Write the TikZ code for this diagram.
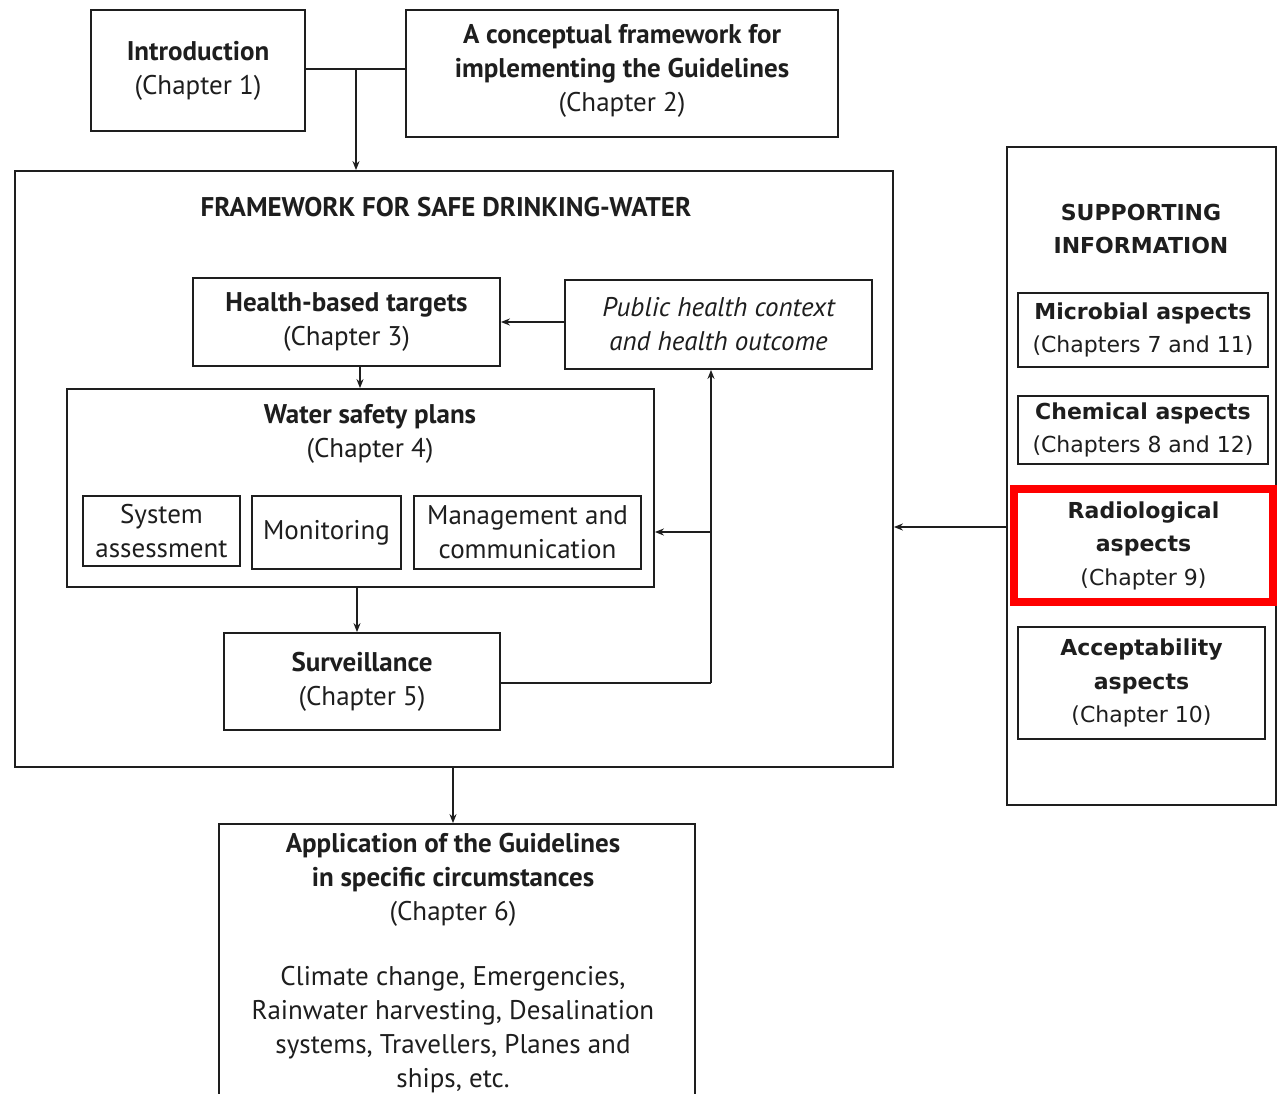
\documentclass[tikz,border=0pt]{standalone}
\usepackage{fontspec}
\setmainfont{PT Sans}
\newfontfamily\vfont{DejaVu Sans}
\usetikzlibrary{arrows.meta}
\definecolor{ink}{HTML}{1E1E1E}
\begin{document}
\begin{tikzpicture}[x=1pt,y=-1pt,
  box/.style={draw=ink,line width=1.8pt,rectangle,inner sep=0pt,align=center,text=ink,
    font=\fontsize{27}{34}\selectfont},
  vbox/.style={box,font=\vfont\fontsize{22}{33.5}\selectfont},
  lbl/.style={inner sep=0pt,align=center,text=ink,font=\fontsize{27}{34}\selectfont},
  vlbl/.style={lbl,font=\vfont\fontsize{22}{33.5}\selectfont},
  arr/.style={draw=ink,line width=1.6pt,-{Stealth[length=9pt,width=7pt]}},
  ln/.style={draw=ink,line width=1.6pt}]
\clip (0,0) rectangle (1277,1093);
\fill[white] (0,0) rectangle (1277,1093);
% top boxes
\node[box,minimum width=214pt,minimum height=121pt] (intro) at (198,70.5)
  {\textbf{Introduction}\\(Chapter 1)};
\node[box,minimum width=432pt,minimum height=127pt] (concept) at (622,73.5) {};
\node[lbl] (concepttext) at (622,71)
  {\textbf{A conceptual framework for}\\\textbf{implementing the Guidelines}\\(Chapter 2)};
% framework
\node[box,minimum width=878pt,minimum height=596pt] (frame) at (454,469) {};
\node[lbl] (ftitle) at (446,207) {\textbf{FRAMEWORK FOR SAFE DRINKING-WATER}};
\node[box,minimum width=307pt,minimum height=88pt] (hbt) at (346.5,322)
  {\textbf{Health-based targets}\\(Chapter 3)};
\node[box,minimum width=307pt,minimum height=89pt] (pub) at (718.5,324.5)
  {\itshape Public health context\\\itshape and health outcome};
\node[box,minimum width=587pt,minimum height=198pt] (wsp) at (360.5,488) {};
\node[lbl] (wsptitle) at (370,434) {\textbf{Water safety plans}\\(Chapter 4)};
\node[box,minimum width=157pt,minimum height=70pt] (sys) at (161.5,531) {System\\assessment};
\node[box,minimum width=149pt,minimum height=73pt] (mon) at (326.5,532.5) {Monitoring};
\node[box,minimum width=227pt,minimum height=73pt] (mgmt) at (527.5,532.5) {Management and\\communication};
\node[box,minimum width=276pt,minimum height=97pt] (surv) at (362,681.5)
  {\textbf{Surveillance}\\(Chapter 5)};
% application
\node[box,minimum width=476pt,minimum height=300pt] (app) at (457,974) {};
\node[lbl,anchor=north] (apptext) at (453,833)
  {\textbf{Application of the Guidelines}\\\textbf{in specific circumstances}\\(Chapter 6)\\[31pt]
   Climate change, Emergencies,\\Rainwater harvesting, Desalination\\systems, Travellers, Planes and\\ships, etc.};
% supporting information
\node[box,minimum width=269pt,minimum height=658pt] (supp) at (1141.5,476) {};
\node[vlbl] (stitle) at (1141,229) {\textbf{SUPPORTING}\\\textbf{INFORMATION}};
\node[vbox,minimum width=250pt,minimum height=74pt] (mic) at (1143,330)
  {\textbf{Microbial aspects}\\(Chapters 7 and 11)};
\node[vbox,minimum width=250pt,minimum height=68pt] (chem) at (1143,430)
  {\textbf{Chemical aspects}\\(Chapters 8 and 12)};
\node[vbox,draw=red,line width=8pt,minimum width=259pt,minimum height=113pt] (radio) at (1143.5,545.5)
  {\textbf{Radiological}\\\textbf{aspects}\\(Chapter 9)};
\node[vbox,minimum width=247pt,minimum height=112pt] (acc) at (1141.5,683)
  {\textbf{Acceptability}\\\textbf{aspects}\\(Chapter 10)};
% connectors
\coordinate (j) at (356,69);
\draw[ln] (intro.east |- j) -- (concept.west |- j);
\draw[arr] (j) -- (j |- frame.north);
\draw[arr] (pub.west |- hbt.east) -- (hbt.east);
\draw[arr] ([xshift=13.5pt]hbt.south) -- ([xshift=13.5pt]hbt.south |- wsp.north);
\draw[arr] ([xshift=-5pt]surv.north |- wsp.south) -- ([xshift=-5pt]surv.north);
\coordinate (c1) at (711,683);
\coordinate (c2) at (711,532);
\draw[ln] (surv.east |- c1) -- (c1);
\draw[arr] (c1) -- (c1 |- pub.south);
\draw[arr] (c2) -- (wsp.east |- c2);
\coordinate (c3) at (950,527);
\draw[arr] (supp.west |- c3) -- (frame.east |- c3);
\draw[arr] ([xshift=-4pt]app.north |- frame.south) -- ([xshift=-4pt]app.north);
\end{tikzpicture}
\end{document}
